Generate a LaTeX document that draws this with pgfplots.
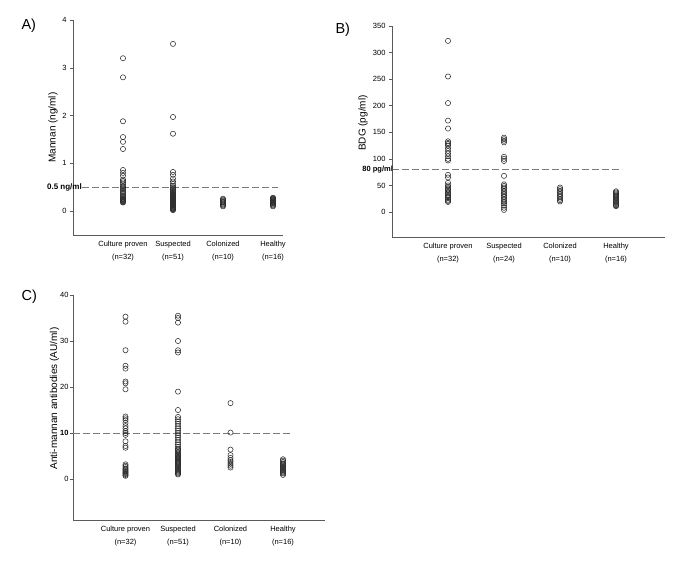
\documentclass[border=0pt]{standalone}
\usepackage{pgfplots}
\pgfplotsset{compat=1.18}
\usepackage{fontspec}
\setmainfont{Liberation Sans}
\definecolor{axgray}{HTML}{5A5A5A}
\definecolor{mk}{HTML}{2E2E2E}
\definecolor{dashc}{HTML}{7A7A7A}
\tikzset{thr/.style={dash pattern=on 6.5pt off 3.5pt, draw=dashc, line width=0.7pt}}
\pgfplotsset{
  dotplot/.style={
    scale only axis, anchor=south west,
    axis lines*=left, axis line style={axgray, line width=0.6pt, -},
    xmin=0, xtick={1,2,3,4},
    major x tick style={draw=none},
    ytick style={axgray, line width=0.5pt},
    tick align=outside, major tick length=3pt,
    xticklabel style={font=\fontsize{7.5}{12.5}\selectfont, align=center},
    yticklabel style={font=\fontsize{7.5}{9}\selectfont},
    /pgf/number format/assume math mode=true,
    ylabel style={font=\fontsize{8.5}{10}\selectfont},
    clip=false,
  },
  dots/.style={only marks, mark=o, mark size=2.6pt, mark options={draw=mk, line width=0.55pt}},
}
\begin{document}
\begin{tikzpicture}
\path[use as bounding box] (0pt,0pt) rectangle (685pt,565pt);
\node[anchor=west, font=\fontsize{14.5}{16}\selectfont] at (18pt,539pt) {A)};
\node[anchor=west, font=\fontsize{14.5}{16}\selectfont] at (332pt,535pt) {B)};
\node[anchor=west, font=\fontsize{14.5}{16}\selectfont] at (18pt,268pt) {C)};
% ---------------- A
\begin{axis}[dotplot, at={(73pt,330pt)}, width=210pt, height=215pt,
  xmax=4.2, ymin=-0.5, ymax=4, ytick={0,1,2,3,4},
  xticklabels={{Culture proven\\(n=32)},{Suspected\\(n=51)},{Colonized\\(n=10)},{Healthy\\(n=16)}},
  ylabel={Mannan (ng/ml)},
  every axis y label/.style={at={(axis description cs:-0.095,0.5)}, rotate=90, anchor=center}]
\draw[thr] (axis cs:0.18,0.5) -- (axis cs:4.1,0.5);
\node[anchor=east, font=\bfseries\fontsize{8}{9}\selectfont, inner sep=0pt] at (axis cs:0.18,0.5) {0.5 ng/ml};
\addplot[dots] coordinates {(1,3.2)(1,2.8)(1,1.88)(1,1.55)(1,1.45)(1,1.3)(1,0.86)(1,0.8)(1,0.74)(1,0.66)(1,0.63)(1,0.6)(1,0.56)(1,0.52)(1,0.48)(1,0.45)(1,0.42)(1,0.39)(1,0.36)(1,0.33)(1,0.3)(1,0.28)(1,0.26)(1,0.25)(1,0.24)(1,0.23)(1,0.22)(1,0.21)(1,0.2)(1,0.19)(1,0.18)(1,0.5)};
\addplot[dots] coordinates {(2,3.5)(2,1.97)(2,1.62)(2,0.82)(2,0.76)(2,0.68)(2,0.62)(2,0.57)(2,0.53)(2,0.5)(2,0.48)(2,0.46)(2,0.44)(2,0.42)(2,0.4)(2,0.38)(2,0.36)(2,0.35)(2,0.34)(2,0.33)(2,0.32)(2,0.31)(2,0.3)(2,0.29)(2,0.28)(2,0.27)(2,0.26)(2,0.25)(2,0.24)(2,0.23)(2,0.22)(2,0.21)(2,0.2)(2,0.19)(2,0.18)(2,0.17)(2,0.16)(2,0.15)(2,0.14)(2,0.13)(2,0.12)(2,0.11)(2,0.1)(2,0.09)(2,0.08)(2,0.07)(2,0.06)(2,0.05)(2,0.04)(2,0.03)(2,0.02)};
\addplot[dots] coordinates {(3,0.26)(3,0.24)(3,0.22)(3,0.2)(3,0.19)(3,0.18)(3,0.16)(3,0.14)(3,0.12)(3,0.1)};
\addplot[dots] coordinates {(4,0.28)(4,0.27)(4,0.26)(4,0.25)(4,0.24)(4,0.23)(4,0.22)(4,0.21)(4,0.2)(4,0.19)(4,0.18)(4,0.17)(4,0.16)(4,0.14)(4,0.12)(4,0.1)};
\end{axis}
% ---------------- B
\begin{axis}[dotplot, at={(392pt,328pt)}, width=273pt, height=211pt,
  xmax=4.875, ymin=-47, ymax=350, ytick={0,50,100,150,200,250,300,350},
  xticklabels={{Culture proven\\(n=32)},{Suspected\\(n=24)},{Colonized\\(n=10)},{Healthy\\(n=16)}},
  ylabel={BDG (pg/ml)},
  every axis y label/.style={at={(axis description cs:-0.106,0.54)}, rotate=90, anchor=center}]
\draw[thr] (axis cs:0,80) -- (axis cs:4.05,80);
\node[anchor=east, font=\bfseries\fontsize{7.5}{9}\selectfont, inner sep=0pt] at (axis cs:0.02,80) {80 pg/ml};
\addplot[dots] coordinates {(1,322)(1,255)(1,205)(1,172)(1,157)(1,133)(1,130)(1,128)(1,125)(1,120)(1,115)(1,110)(1,105)(1,100)(1,97)(1,70)(1,65)(1,55)(1,50)(1,47)(1,44)(1,42)(1,40)(1,37)(1,35)(1,32)(1,30)(1,28)(1,26)(1,23)(1,21)(1,19)};
\addplot[dots] coordinates {(2,140)(2,137)(2,134)(2,131)(2,104)(2,100)(2,96)(2,68)(2,52)(2,49)(2,46)(2,43)(2,40)(2,37)(2,34)(2,31)(2,28)(2,25)(2,22)(2,19)(2,16)(2,12)(2,8)(2,4)};
\addplot[dots] coordinates {(3,46)(3,43)(3,40)(3,37)(3,34)(3,31)(3,28)(3,25)(3,22)(3,20)};
\addplot[dots] coordinates {(4,39)(4,37)(4,35)(4,33)(4,31)(4,29)(4,27)(4,25)(4,23)(4,21)(4,19)(4,17)(4,15)(4,13)(4,12)(4,11)};
\end{axis}
% ---------------- C
\begin{axis}[dotplot, at={(73pt,45pt)}, width=252pt, height=225pt,
  xmax=4.8, ymin=-8.9, ymax=40, ytick={0,10,20,30,40},
  yticklabels={0,\textbf{10},20,30,40},
  yticklabel style={xshift=2pt},
  xticklabels={{Culture proven\\(n=32)},{Suspected\\(n=51)},{Colonized\\(n=10)},{Healthy\\(n=16)}},
  ylabel={Anti-mannan antibodies (AU/ml)},
  ylabel style={font=\fontsize{10}{12}\selectfont},
  every axis y label/.style={at={(axis description cs:-0.073,0.54)}, rotate=90, anchor=center}]
\draw[thr] (axis cs:0,10) -- (axis cs:4.13,10);
\addplot[dots] coordinates {(1,35.3)(1,34.2)(1,28)(1,24.6)(1,24)(1,21.2)(1,20.8)(1,19.5)(1,13.6)(1,13.2)(1,12.8)(1,12.2)(1,11.5)(1,11)(1,10.4)(1,10)(1,9.6)(1,8.2)(1,7.2)(1,6.8)(1,3.2)(1,2.9)(1,2.6)(1,2.3)(1,2.1)(1,1.9)(1,1.7)(1,1.5)(1,1.3)(1,1.1)(1,0.9)(1,0.7)};
\addplot[dots] coordinates {(2,35.5)(2,35)(2,34)(2,30)(2,28)(2,27.5)(2,19)(2,15)(2,13.5)(2,13)(2,12.5)(2,12)(2,11.5)(2,11)(2,10.5)(2,10)(2,9.5)(2,9)(2,8.5)(2,8)(2,7.5)(2,7)(2,6.6)(2,6.4)(2,6.2)(2,5.9)(2,5.6)(2,5.3)(2,5.1)(2,5)(2,4.8)(2,4.6)(2,4.5)(2,4.4)(2,4.2)(2,4)(2,3.8)(2,3.6)(2,3.4)(2,3.2)(2,3)(2,2.8)(2,2.6)(2,2.4)(2,2.2)(2,2)(2,1.8)(2,1.6)(2,1.4)(2,1.2)(2,1)};
\addplot[dots] coordinates {(3,16.5)(3,10.1)(3,6.4)(3,5.2)(3,4.6)(3,4.1)(3,3.7)(3,3.3)(3,2.9)(3,2.5)};
\addplot[dots] coordinates {(4,4.3)(4,4)(4,3.7)(4,3.4)(4,3.2)(4,3)(4,2.8)(4,2.6)(4,2.4)(4,2.2)(4,2)(4,1.8)(4,1.6)(4,1.4)(4,1.2)(4,0.9)};
\end{axis}
\end{tikzpicture}
\end{document}
